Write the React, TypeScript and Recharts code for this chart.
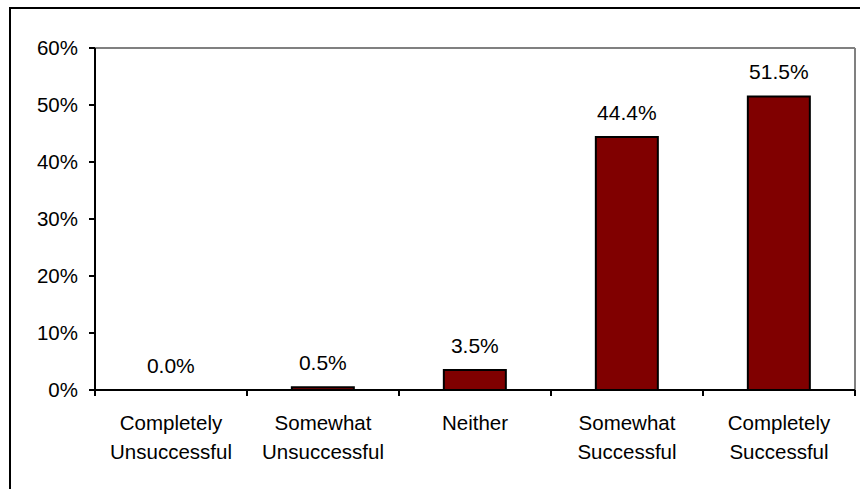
import { BarChart, Bar, XAxis, YAxis, LabelList, ReferenceLine } from "recharts";

const categories = [
  "Completely\nUnsuccessful",
  "Somewhat\nUnsuccessful",
  "Neither",
  "Somewhat\nSuccessful",
  "Completely\nSuccessful",
];
const shares = [0.0, 0.005, 0.035, 0.444, 0.515];
const yTicks = [0, 0.1, 0.2, 0.3, 0.4, 0.5, 0.6];

const data = categories.map((name, i) => ({ name, value: shares[i] }));

const FONT = "'Liberation Sans', Arial, sans-serif";

// category label plus the tick marks on the category boundaries
const CategoryTick = (props: any) => {
  const { x, y, payload, width, visibleTicksCount, index } = props;
  const band = Number(width) / Number(visibleTicksCount);
  const lines = String(payload.value).split("\n");
  const left = x - band / 2;
  return (
    <g>
      <line x1={left} x2={left} y1={y} y2={y + 6} stroke="#000" strokeWidth={2} />
      {index === visibleTicksCount - 1 && (
        <line x1={x + band / 2} x2={x + band / 2} y1={y} y2={y + 6} stroke="#000" strokeWidth={2} />
      )}
      <text x={x} y={y} textAnchor="middle" fontFamily={FONT} fontSize={20.5} fill="#000">
        {lines.map((l, i) => (
          <tspan key={i} x={x} dy={i === 0 ? 40 : 29}>
            {l}
          </tspan>
        ))}
      </text>
    </g>
  );
};

export default function App() {
  return (
    <div style={{ position: "fixed", left: 0, top: 0, width: 860, height: 489, overflow: "hidden", background: "#fff" }}>
      <div
        style={{
          position: "absolute",
          left: 9,
          top: 7,
          width: 1000,
          height: 1000,
          border: "2px solid #000",
        }}
      />
      <div style={{ position: "absolute", left: 0, top: 0 }}>
        <BarChart
          width={860}
          height={489}
          data={data}
          margin={{ top: 48, right: 5, bottom: 0, left: 0 }}
          barCategoryGap="29.5%"
        >
          <XAxis
            dataKey="name"
            interval={0}
            axisLine={{ stroke: "#000", strokeWidth: 2 }}
            tickLine={false}
            tickSize={0}
            tickMargin={0}
            tick={<CategoryTick />}
            height={99}
          />
          <YAxis
            domain={[0, 0.6]}
            ticks={yTicks}
            width={95}
            axisLine={{ stroke: "#000", strokeWidth: 2 }}
            tickLine={{ stroke: "#000", strokeWidth: 2 }}
            tickSize={6}
            tickMargin={11}
            tick={{ fontFamily: FONT, fontSize: 20.5, fill: "#000" }}
            tickFormatter={(v: number) => `${Math.round(v * 100)}%`}
          />
          <ReferenceLine y={0.6} stroke="#808080" strokeWidth={2} />
          <ReferenceLine
            x={categories[categories.length - 1]}
            position="end"
            stroke="#808080"
            strokeWidth={2}
          />
          <Bar
            dataKey="value"
            fill="#800000"
            stroke="#000"
            strokeWidth={2}
            minPointSize={0.01}
            isAnimationActive={false}
          >
            <LabelList
              dataKey="value"
              position="top"
              offset={17}
              formatter={(v: any) => `${(Number(v) * 100).toFixed(1)}%`}
              style={{ fontFamily: FONT, fontSize: 21, fill: "#000" }}
            />
          </Bar>
        </BarChart>
      </div>
    </div>
  );
}
